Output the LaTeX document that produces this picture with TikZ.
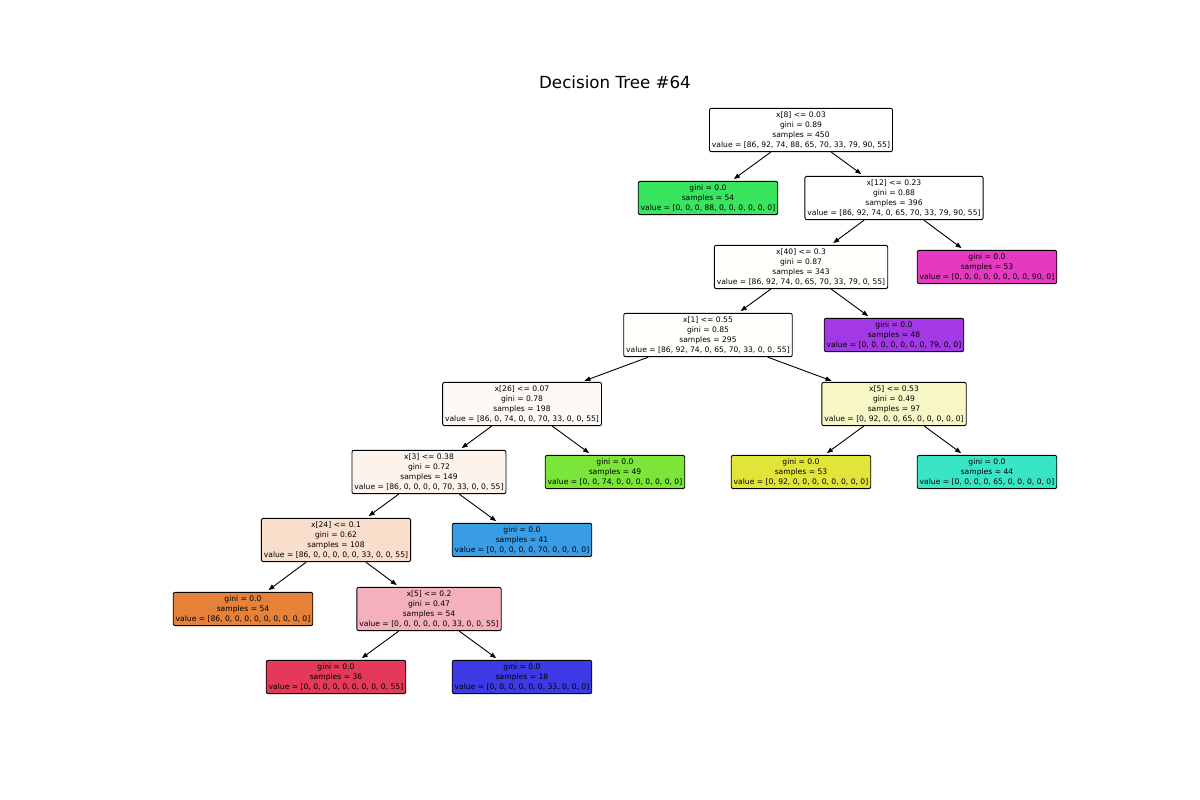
\documentclass[tikz,border=0pt]{standalone}
\usepackage{fontspec}
\setmainfont{DejaVu Sans}
\usetikzlibrary{arrows.meta}

\definecolor{cl0}{HTML}{E58139}
\definecolor{cl1}{HTML}{E2E539}
\definecolor{cl2}{HTML}{7BE539}
\definecolor{cl3}{HTML}{39E55F}
\definecolor{cl4}{HTML}{39E5C5}
\definecolor{cl5}{HTML}{399DE5}
\definecolor{cl6}{HTML}{3C39E5}
\definecolor{cl7}{HTML}{A339E5}
\definecolor{cl8}{HTML}{E539C0}
\definecolor{cl9}{HTML}{E53959}
\definecolor{pale1}{HTML}{FFFFFC}
\definecolor{pale2}{HTML}{FEF9F5}
\definecolor{pale3}{HTML}{F6F7C5}
\definecolor{pale4}{HTML}{FDF3ED}
\definecolor{pale5}{HTML}{F8DECB}
\definecolor{pale6}{HTML}{F5B0BD}

\tikzset{
  box/.style={draw, rounded corners=2pt, line width=0.9pt, align=center,
    inner xsep=2.5pt, inner ysep=3.3pt, font=\fontsize{7.6}{10}\selectfont},
  edge/.style={-{Triangle[length=6pt,width=4.5pt]}, line width=0.9pt, shorten >=3pt}
}

\begin{document}
\begin{tikzpicture}[x=1pt,y=-1pt]

\useasboundingbox[fill=white] (0,0) rectangle (1200,800);

\node (title) at (615,82) {\fontsize{16.7}{20}\selectfont Decision Tree \#64};

\node[box,fill=white] (n0) at (801,130) {x[8] <= 0.03\\gini = 0.89\\samples = 450\\value = [86, 92, 74, 88, 65, 70, 33, 79, 90, 55]};
\node[box,fill=cl3] (n1) at (708,198) {gini = 0.0\\samples = 54\\value = [0, 0, 0, 88, 0, 0, 0, 0, 0, 0]};
\node[box,fill=white] (n2) at (894,198) {x[12] <= 0.23\\gini = 0.88\\samples = 396\\value = [86, 92, 74, 0, 65, 70, 33, 79, 90, 55]};
\node[box,fill=pale1] (n3) at (801,267) {x[40] <= 0.3\\gini = 0.87\\samples = 343\\value = [86, 92, 74, 0, 65, 70, 33, 79, 0, 55]};
\node[box,fill=cl8] (n4) at (987,267) {gini = 0.0\\samples = 53\\value = [0, 0, 0, 0, 0, 0, 0, 0, 90, 0]};
\node[box,fill=pale1] (n5) at (708,335) {x[1] <= 0.55\\gini = 0.85\\samples = 295\\value = [86, 92, 74, 0, 65, 70, 33, 0, 0, 55]};
\node[box,fill=cl7] (n6) at (894,335) {gini = 0.0\\samples = 48\\value = [0, 0, 0, 0, 0, 0, 0, 79, 0, 0]};
\node[box,fill=pale2] (n7) at (522,404) {x[26] <= 0.07\\gini = 0.78\\samples = 198\\value = [86, 0, 74, 0, 0, 70, 33, 0, 0, 55]};
\node[box,fill=pale3] (n8) at (894,404) {x[5] <= 0.53\\gini = 0.49\\samples = 97\\value = [0, 92, 0, 0, 65, 0, 0, 0, 0, 0]};
\node[box,fill=pale4] (n9) at (429,472) {x[3] <= 0.38\\gini = 0.72\\samples = 149\\value = [86, 0, 0, 0, 0, 70, 33, 0, 0, 55]};
\node[box,fill=cl2] (n10) at (615,472) {gini = 0.0\\samples = 49\\value = [0, 0, 74, 0, 0, 0, 0, 0, 0, 0]};
\node[box,fill=cl1] (n11) at (801,472) {gini = 0.0\\samples = 53\\value = [0, 92, 0, 0, 0, 0, 0, 0, 0, 0]};
\node[box,fill=cl4] (n12) at (987,472) {gini = 0.0\\samples = 44\\value = [0, 0, 0, 0, 65, 0, 0, 0, 0, 0]};
\node[box,fill=pale5] (n13) at (336,540) {x[24] <= 0.1\\gini = 0.62\\samples = 108\\value = [86, 0, 0, 0, 0, 0, 33, 0, 0, 55]};
\node[box,fill=cl5] (n14) at (522,540) {gini = 0.0\\samples = 41\\value = [0, 0, 0, 0, 0, 70, 0, 0, 0, 0]};
\node[box,fill=cl0] (n15) at (243,609) {gini = 0.0\\samples = 54\\value = [86, 0, 0, 0, 0, 0, 0, 0, 0, 0]};
\node[box,fill=pale6] (n16) at (429,609) {x[5] <= 0.2\\gini = 0.47\\samples = 54\\value = [0, 0, 0, 0, 0, 0, 33, 0, 0, 55]};
\node[box,fill=cl9] (n17) at (336,677) {gini = 0.0\\samples = 36\\value = [0, 0, 0, 0, 0, 0, 0, 0, 0, 55]};
\node[box,fill=cl6] (n18) at (522,677) {gini = 0.0\\samples = 18\\value = [0, 0, 0, 0, 0, 0, 33, 0, 0, 0]};

\draw[edge] (n0) -- (n1);
\draw[edge] (n0) -- (n2);
\draw[edge] (n2) -- (n3);
\draw[edge] (n2) -- (n4);
\draw[edge] (n3) -- (n5);
\draw[edge] (n3) -- (n6);
\draw[edge] (n5) -- (n7);
\draw[edge] (n5) -- (n8);
\draw[edge] (n7) -- (n9);
\draw[edge] (n7) -- (n10);
\draw[edge] (n8) -- (n11);
\draw[edge] (n8) -- (n12);
\draw[edge] (n9) -- (n13);
\draw[edge] (n9) -- (n14);
\draw[edge] (n13) -- (n15);
\draw[edge] (n13) -- (n16);
\draw[edge] (n16) -- (n17);
\draw[edge] (n16) -- (n18);

\end{tikzpicture}
\end{document}
